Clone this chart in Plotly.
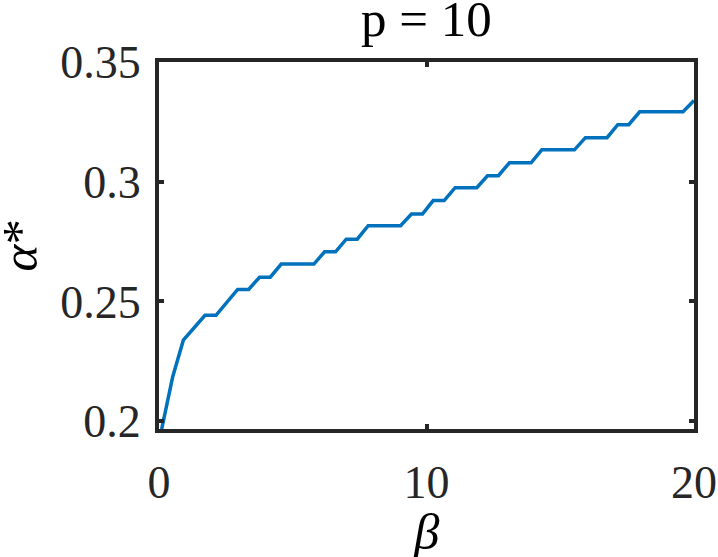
import plotly.graph_objects as go

# beta samples (50 points from 0.1 to 20)
beta = [
    0.10, 0.51, 0.91, 1.32, 1.72, 2.13, 2.54, 2.94, 3.35, 3.76,
    4.16, 4.57, 4.97, 5.38, 5.79, 6.19, 6.60, 7.00, 7.41, 7.82,
    8.22, 8.63, 9.03, 9.44, 9.85, 10.25, 10.66, 11.07, 11.47, 11.88,
    12.28, 12.69, 13.10, 13.50, 13.91, 14.31, 14.72, 15.12, 15.53, 15.94,
    16.34, 16.75, 17.15, 17.56, 17.97, 18.37, 18.78, 19.18, 19.59, 20.00,
]
alpha_star = [
    0.1967, 0.2184, 0.2338, 0.2392, 0.2442, 0.2442, 0.2496, 0.2550, 0.2550, 0.2601,
    0.2601, 0.2656, 0.2656, 0.2656, 0.2656, 0.2707, 0.2707, 0.2760, 0.2760, 0.2816,
    0.2816, 0.2816, 0.2816, 0.2865, 0.2865, 0.2921, 0.2921, 0.2975, 0.2975, 0.2975,
    0.3025, 0.3025, 0.3079, 0.3079, 0.3079, 0.3133, 0.3133, 0.3133, 0.3133, 0.3184,
    0.3184, 0.3184, 0.3238, 0.3238, 0.3292, 0.3292, 0.3292, 0.3292, 0.3292, 0.3339,
]

x_ticks = [0, 10, 20]
y_ticks = [0.2, 0.25, 0.3, 0.35]
y_tick_text = ["0.2", "0.25", "0.3", "0.35"]

AXIS_COLOR = "#262626"
FONT = "Liberation Serif"

fig = go.Figure()
fig.add_trace(
    go.Scatter(
        x=beta,
        y=alpha_star,
        mode="lines",
        line={"width": 3.5, "color": "#0072BD"},
        showlegend=False,
    )
)

fig.update_layout(
    width=718,
    height=557,
    paper_bgcolor="white",
    plot_bgcolor="white",
    font={"family": FONT, "size": 46, "color": "#000000"},
    margin={"l": 159, "r": 24, "t": 62, "b": 128},
    title={
        "text": "p = 10",
        "font": {"size": 51, "family": FONT, "color": "#000000"},
        "x": 0.594,
        "xanchor": "center",
        "y": 1.0,
        "yanchor": "top",
        "pad": {"t": 0, "b": 0},
    },
)

axis_common = dict(
    showline=True,
    linecolor=AXIS_COLOR,
    linewidth=4,
    mirror="allticks",
    ticks="inside",
    ticklen=5,
    tickwidth=4,
    tickcolor=AXIS_COLOR,
    showgrid=False,
    zeroline=False,
    automargin=False,
    tickfont={"family": FONT, "size": 46, "color": "#262626"},
)

fig.update_xaxes(
    range=[0, 20],
    tickvals=x_ticks,
    ticktext=[str(v) for v in x_ticks],
    ticklabelstandoff=10,
    **axis_common,
)
fig.update_yaxes(
    range=[0.1967, 0.35],
    tickvals=y_ticks,
    ticktext=y_tick_text,
    ticklabelstandoff=5,
    **axis_common,
)

# axis titles placed as annotations for exact positioning
fig.add_annotation(
    text="<i>β</i>", xref="paper", yref="paper", x=0.5, y=-0.2,
    xanchor="center", yanchor="top", showarrow=False,
    font={"size": 51, "family": FONT, "color": "#000000"},
)
fig.add_annotation(
    text="<i>α</i>*", xref="paper", yref="paper", x=-0.26, y=0.5,
    xanchor="center", yanchor="middle", textangle=-90, showarrow=False,
    font={"size": 51, "family": FONT, "color": "#000000"},
)

fig.write_html(
    "out.html",
    config={"displayModeBar": False},
    post_script="document.body.style.margin='0';",
)
